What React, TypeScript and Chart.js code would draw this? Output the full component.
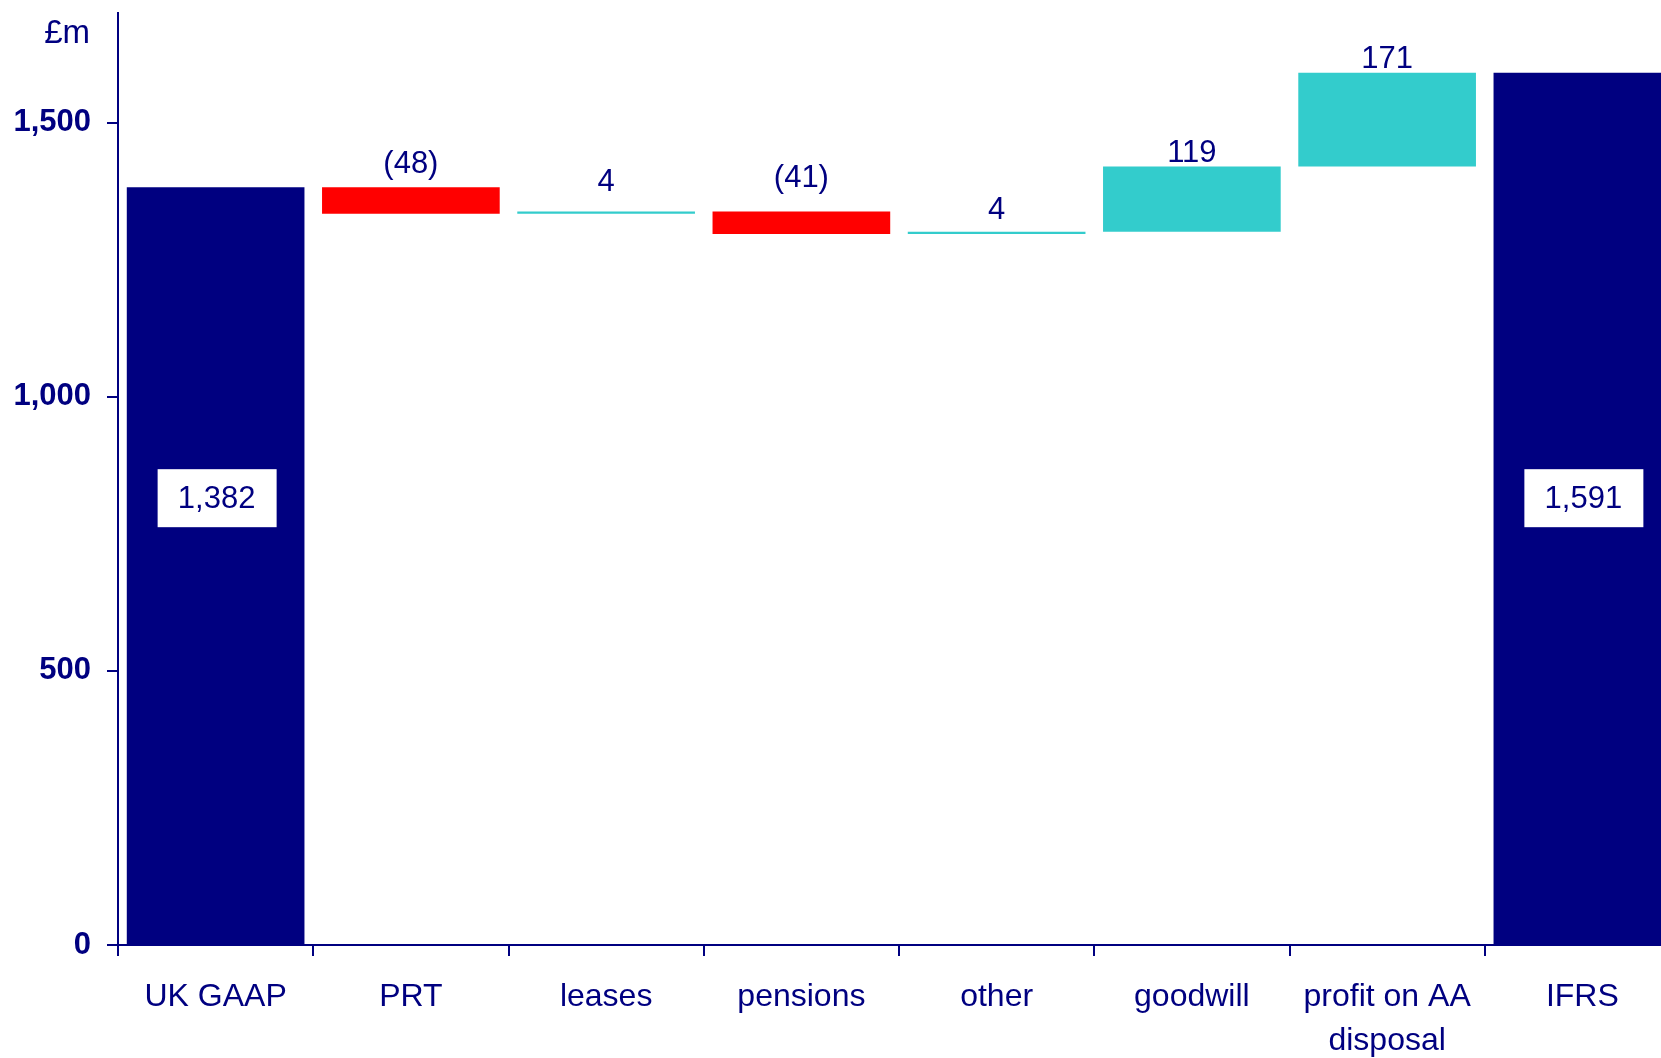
import React, { useEffect, useRef } from "react";
import { Chart, registerables } from "chart.js";

Chart.register(...registerables);

// ---------- data ----------
const categories: (string | string[])[] = [
  "UK GAAP",
  "PRT",
  "leases",
  "pensions",
  "other",
  "goodwill",
  ["profit on AA", "disposal"],
  "IFRS",
];
const openingTotal = 1382;
const adjustments = [-48, 4, -41, 4, 119, 171];
const closingTotal = 1591;
const yTickValues = [0, 500, 1000, 1500];
const yMax = 1700;

// ---------- styles ----------
const NAVY = "#000080";
const RED = "#FF0000";
const TEAL = "#33CCCC";
const FONT = "'Liberation Sans', Arial, Helvetica, sans-serif";
const labelGaps = [14, 20, 24, 13, 5, 5]; // px between bar top and value label baseline
const totalBoxLevel = 815; // value level where the white total boxes sit

const fmt = (n: number) =>
  n < 0 ? `(${Math.abs(n).toLocaleString("en-GB")})` : n.toLocaleString("en-GB");

function buildRanges() {
  const ranges: [number, number][] = [[0, openingTotal]];
  let run = openingTotal;
  adjustments.forEach((d) => {
    const next = run + d;
    ranges.push([Math.min(run, next), Math.max(run, next)]);
    run = next;
  });
  ranges.push([0, closingTotal]);
  return ranges;
}

function buildColors() {
  return [NAVY, ...adjustments.map((d) => (d < 0 ? RED : TEAL)), NAVY];
}

const labelPlugin = {
  id: "waterfallLabels",
  afterDatasetsDraw(chart: any) {
    const ctx = chart.ctx;
    const meta = chart.getDatasetMeta(0);
    const yScale = chart.scales.y;
    const n = meta.data.length;
    ctx.save();
    meta.data.forEach((el: any, i: number) => {
      const { x, y, base } = el.getProps(["x", "y", "base"], true);
      if (i === 0 || i === n - 1) {
        const total = i === 0 ? openingTotal : closingTotal;
        const cy = yScale.getPixelForValue(totalBoxLevel);
        ctx.fillStyle = "#FFFFFF";
        ctx.fillRect(x - 58, cy - 29, 119, 58);
        ctx.fillStyle = NAVY;
        ctx.font = `31px ${FONT}`;
        ctx.textAlign = "center";
        ctx.textBaseline = "middle";
        ctx.fillText(fmt(total), x + 1, cy + 1);
      } else {
        const top = Math.min(y, base);
        ctx.fillStyle = NAVY;
        ctx.font = `31px ${FONT}`;
        ctx.textAlign = "center";
        ctx.textBaseline = "alphabetic";
        ctx.fillText(fmt(adjustments[i - 1]), x, top - labelGaps[i - 1]);
      }
    });
    ctx.fillStyle = NAVY;
    ctx.font = `33px ${FONT}`;
    ctx.textAlign = "right";
    ctx.textBaseline = "alphabetic";
    ctx.fillText("£m", chart.chartArea.left - 28, chart.chartArea.top + 30);
    ctx.restore();
  },
};

export default function App() {
  const canvasRef = useRef<HTMLCanvasElement | null>(null);

  useEffect(() => {
    if (!canvasRef.current) return;
    const chart = new Chart(canvasRef.current, {
      type: "bar",
      data: {
        labels: categories as any,
        datasets: [
          {
            data: buildRanges() as any,
            backgroundColor: buildColors(),
            borderWidth: 0,
            categoryPercentage: 1,
            barPercentage: 0.91,
          },
        ],
      },
      options: {
        responsive: false,
        animation: false,
        devicePixelRatio: 1,
        layout: { padding: { top: 13, right: 10, left: 0, bottom: 0 } },
        plugins: {
          legend: { display: false },
          tooltip: { enabled: false },
        },
        scales: {
          x: {
            grid: {
              display: true,
              offset: true,
              drawOnChartArea: false,
              drawTicks: true,
              tickLength: 11,
              color: NAVY,
              lineWidth: 2,
            },
            border: { display: true, color: NAVY, width: 2 },
            ticks: {
              color: NAVY,
              font: { family: FONT, size: 32, lineHeight: 1.375 },
              padding: 19,
              maxRotation: 0,
              autoSkip: false,
            },
            afterFit: (s: any) => {
              s.height = 113;
              s.paddingLeft = 0;
              s.paddingRight = 0;
            },
          },
          y: {
            min: 0,
            max: yMax,
            afterBuildTicks: (s: any) => {
              s.ticks = yTickValues.map((v) => ({ value: v }));
            },
            grid: {
              drawOnChartArea: false,
              drawTicks: true,
              tickLength: 11,
              color: NAVY,
              lineWidth: 2,
            },
            border: { display: true, color: NAVY, width: 2 },
            ticks: {
              color: NAVY,
              font: { family: FONT, size: 31, weight: "bold" },
              padding: 16,
              callback: (v: any) => Number(v).toLocaleString("en-GB"),
            },
            afterFit: (s: any) => {
              s.width = 118;
              s.paddingTop = 0;
              s.paddingBottom = 0;
            },
          },
        },
      },
      plugins: [labelPlugin],
    });
    return () => chart.destroy();
  }, []);

  return (
    <div
      style={{
        position: "fixed",
        left: 0,
        top: 0,
        width: 1661,
        height: 1058,
        overflow: "hidden",
        background: "#FFFFFF",
      }}
    >
      <canvas
        ref={canvasRef}
        width={1690}
        height={1058}
        style={{ width: 1690, height: 1058, display: "block" }}
      />
    </div>
  );
}
